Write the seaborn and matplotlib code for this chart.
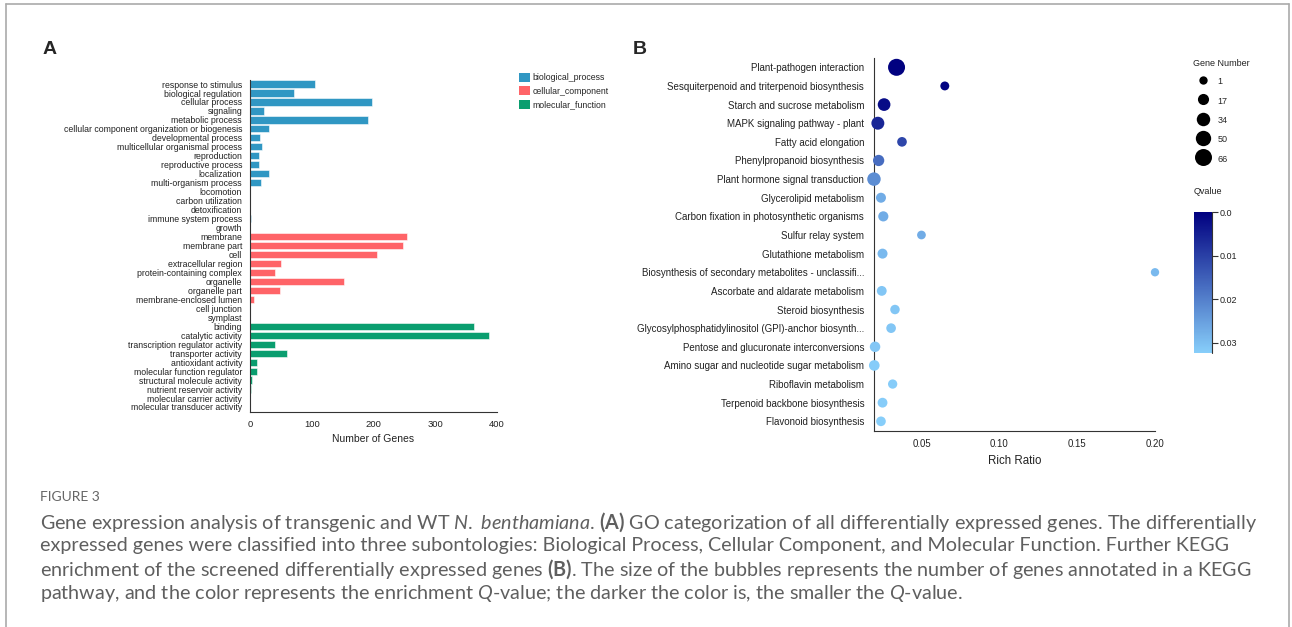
import numpy as np
import pandas as pd
import matplotlib
matplotlib.use("Agg")
import matplotlib.pyplot as plt
from matplotlib.colors import LinearSegmentedColormap, Normalize
from matplotlib.cm import ScalarMappable
from matplotlib.lines import Line2D
from matplotlib.patches import Patch
import seaborn as sns

# ---------------- GO categorisation (panel A) ----------------
bp_terms = [
    "response to stimulus", "biological regulation", "cellular process", "signaling",
    "metabolic process", "cellular component organization or biogenesis",
    "developmental process", "multicellular organismal process", "reproduction",
    "reproductive process", "localization", "multi-organism process", "locomotion",
    "carbon utilization", "detoxification", "immune system process", "growth",
]
bp_counts = [106, 71, 198, 22, 191, 31, 16, 19, 15, 15, 30, 18, 0, 0, 0, 2, 0]

cc_terms = [
    "membrane", "membrane part", "cell", "extracellular region",
    "protein-containing complex", "organelle", "organelle part",
    "membrane-enclosed lumen", "cell junction", "symplast",
]
cc_counts = [254, 248, 206, 51, 41, 152, 49, 7, 0, 0]

mf_terms = [
    "binding", "catalytic activity", "transcription regulator activity",
    "transporter activity", "antioxidant activity", "molecular function regulator",
    "structural molecule activity", "nutrient reservoir activity",
    "molecular carrier activity", "molecular transducer activity",
]
mf_counts = [362, 387, 41, 60, 12, 12, 4, 1, 0, 0]

ontology_names = ["biological_process", "cellular_component", "molecular_function"]
ontology_colors = ["#3097C3", "#FF6468", "#0A9E6F"]
gene_ticks = [0, 100, 200, 300, 400]

# ---------------- KEGG enrichment (panel B) ----------------
pathways = [
    "Plant-pathogen interaction",
    "Sesquiterpenoid and triterpenoid biosynthesis",
    "Starch and sucrose metabolism",
    "MAPK signaling pathway - plant",
    "Fatty acid elongation",
    "Phenylpropanoid biosynthesis",
    "Plant hormone signal transduction",
    "Glycerolipid metabolism",
    "Carbon fixation in photosynthetic organisms",
    "Sulfur relay system",
    "Glutathione metabolism",
    "Biosynthesis of secondary metabolites - unclassifi...",
    "Ascorbate and aldarate metabolism",
    "Steroid biosynthesis",
    "Glycosylphosphatidylinositol (GPI)-anchor biosynth...",
    "Pentose and glucuronate interconversions",
    "Amino sugar and nucleotide sugar metabolism",
    "Riboflavin metabolism",
    "Terpenoid backbone biosynthesis",
    "Flavonoid biosynthesis",
]
rich_ratio = [0.034, 0.065, 0.026, 0.022, 0.0375, 0.0225, 0.0195, 0.024, 0.0255, 0.050,
              0.025, 0.200, 0.0245, 0.033, 0.0305, 0.0202, 0.0197, 0.0315, 0.025, 0.024]
gene_number = [66, 4, 28, 30, 8, 18, 34, 10, 11, 3, 10, 1, 9, 7, 8, 13, 14, 6, 9, 8]
q_value = [0.0002, 0.0006, 0.002, 0.006, 0.011, 0.017, 0.022, 0.027, 0.027, 0.027,
           0.029, 0.029, 0.031, 0.031, 0.031, 0.031, 0.032, 0.032, 0.032, 0.0323]
size_legend_values = [1, 17, 34, 50, 66]
q_ticks = [0.0, 0.01, 0.02, 0.03]
q_tick_labels = ["0.0", "0.01", "0.02", "0.03"]
rich_ticks = [0.05, 0.10, 0.15, 0.20]

caption_lines = [
    r"Gene expression analysis of transgenic and WT $\mathit{N.\ benthamiana}$. $\mathbf{(A)}$ GO categorization of all differentially expressed genes. The differentially",
    "expressed genes were classified into three subontologies: Biological Process, Cellular Component, and Molecular Function. Further KEGG",
    r"enrichment of the screened differentially expressed genes $\mathbf{(B)}$. The size of the bubbles represents the number of genes annotated in a KEGG",
    r"pathway, and the color represents the enrichment $\mathit{Q}$-value; the darker the color is, the smaller the $\mathit{Q}$-value.",
]

# ---------------- style ----------------
sns.set_style("white")
plt.rcParams["font.family"] = ["Liberation Sans", "DejaVu Sans"]
plt.rcParams["mathtext.fontset"] = "custom"
plt.rcParams["mathtext.rm"] = "Lato"
plt.rcParams["mathtext.it"] = "Lato:italic"
plt.rcParams["mathtext.bf"] = "Lato:bold"

W, H = 1292, 627
fig = plt.figure(figsize=(W / 100, H / 100), dpi=100)
fig.patch.set_facecolor("white")


def box(left, top, right, bottom):
    """Figure-fraction rectangle from pixel edges."""
    return [left / W, 1 - bottom / H, (right - left) / W, (bottom - top) / H]


AXIS_COLOR = "#333333"
TEXT_COLOR = "#222222"
CAPTION_COLOR = "#5f5f5f"

# ---------------- panel A: GO bar chart ----------------
go = pd.DataFrame({
    "term": bp_terms + cc_terms + mf_terms,
    "count": bp_counts + cc_counts + mf_counts,
    "ontology": [ontology_names[0]] * len(bp_terms)
    + [ontology_names[1]] * len(cc_terms)
    + [ontology_names[2]] * len(mf_terms),
})
palette_a = dict(zip(ontology_names, ontology_colors))

axA = fig.add_axes(box(250, 80, 497, 412))
sns.barplot(data=go, x="count", y="term", hue="ontology", palette=palette_a,
            dodge=False, orient="h", width=0.8, saturation=1, legend=False,
            edgecolor=(1, 1, 1, 0.55), linewidth=0.7, ax=axA)
axA.set_xlim(0, 400)
axA.set_ylim(len(go) - 0.44, -0.45)
axA.set_xticks(gene_ticks)
axA.set_xticklabels([str(t) for t in gene_ticks])
axA.set_xlabel("Number of Genes", fontsize=7.5, color=TEXT_COLOR, labelpad=4)
axA.set_ylabel("")
for s in ("top", "right"):
    axA.spines[s].set_visible(False)
for s in ("left", "bottom"):
    axA.spines[s].set_color(AXIS_COLOR)
    axA.spines[s].set_linewidth(0.8)
axA.tick_params(axis="y", length=4.5, width=0.8, pad=1.2, labelsize=6.3,
                color=AXIS_COLOR, labelcolor=TEXT_COLOR)
axA.tick_params(axis="x", length=4, width=0.8, pad=1.5, labelsize=6.8,
                color=AXIS_COLOR, labelcolor=TEXT_COLOR)

handles_a = [Patch(facecolor=c, edgecolor="none") for c in ontology_colors]
axA.legend(handles_a, ontology_names, loc="upper left",
           bbox_to_anchor=(519 / W, 1 - 73 / H), bbox_transform=fig.transFigure,
           frameon=False, fontsize=6.3, handlelength=1.2, handleheight=1.2,
           handletextpad=0.35, labelspacing=0.45, borderpad=0, borderaxespad=0)

# ---------------- panel B: KEGG bubble chart ----------------
kegg = pd.DataFrame({"pathway": pathways, "rich": rich_ratio,
                     "genes": gene_number, "q": q_value})
cmap_q = LinearSegmentedColormap.from_list("qvalue", ["#000080", "#87CEFA"])
q_norm = Normalize(0.0, 0.0323)
size_range = (36, 150)
size_norm = (1, 66)

axB = fig.add_axes(box(873.5, 58, 1155, 431))
sns.scatterplot(data=kegg, x="rich", y="pathway", hue="q", size="genes",
                palette=cmap_q, hue_norm=q_norm, sizes=size_range, size_norm=size_norm,
                edgecolor="none", linewidth=0, legend=False, clip_on=False,
                zorder=3, ax=axB)
x_min = 0.0192
axB.set_xlim(x_min, 0.20)
axB.set_ylim(len(pathways) - 0.48, -0.5)
axB.set_xticks([x_min] + rich_ticks)
axB.set_xticklabels([""] + [f"{t:.2f}" for t in rich_ticks])
axB.set_yticks(range(len(pathways)))
axB.set_yticklabels(pathways)
axB.set_xlabel("Rich Ratio", fontsize=8.3, color=TEXT_COLOR, labelpad=4)
axB.set_ylabel("")
for s in ("top", "right"):
    axB.spines[s].set_visible(False)
for s in ("left", "bottom"):
    axB.spines[s].set_color(AXIS_COLOR)
    axB.spines[s].set_linewidth(0.8)
axB.tick_params(axis="y", length=5.5, width=0.8, pad=1.2, labelsize=7,
                color=AXIS_COLOR, labelcolor=TEXT_COLOR)
axB.tick_params(axis="x", length=4, width=0.8, pad=2, labelsize=6.9,
                color=AXIS_COLOR, labelcolor=TEXT_COLOR)


# bubble-size legend
def marker_diameter(g):
    lo, hi = size_norm
    area = size_range[0] + (size_range[1] - size_range[0]) * (g - lo) / (hi - lo)
    return np.sqrt(area)


size_handles = [Line2D([], [], marker="o", linestyle="", markerfacecolor="black",
                       markeredgecolor="none", markersize=marker_diameter(g))
                for g in size_legend_values]
fig.text(1193 / W, 1 - 63 / H, "Gene Number", fontsize=6.5, color=TEXT_COLOR,
         ha="left", va="center")
fig.legend(size_handles, [str(g) for g in size_legend_values],
           loc="center left", bbox_to_anchor=(1193 / W, 1 - 120 / H),
           frameon=False, fontsize=6.5, handlelength=2.2,
           handletextpad=0.55, labelspacing=0.85, handleheight=1.6,
           borderpad=0, borderaxespad=0)

# Q-value colour bar
fig.text(1194 / W, 1 - 192 / H, "Qvalue", fontsize=6.5, color=TEXT_COLOR,
         ha="left", va="center")
cax = fig.add_axes(box(1194, 212, 1212, 353))
cb = fig.colorbar(ScalarMappable(norm=q_norm, cmap=cmap_q), cax=cax)
cax.invert_yaxis()
cb.set_ticks(q_ticks)
cb.set_ticklabels(q_tick_labels)
cb.outline.set_visible(False)
cax.axvline(1, color=AXIS_COLOR, lw=0.8, clip_on=False)
cax.tick_params(length=4, width=0.8, labelsize=6.5, pad=1.5, color=AXIS_COLOR,
                labelcolor=TEXT_COLOR)

# ---------------- panel letters ----------------
fig.text(43 / W, 1 - 49 / H, "A", fontsize=14, fontweight="bold", ha="left", va="center")
fig.text(633 / W, 1 - 50 / H, "B", fontsize=14, fontweight="bold", ha="left", va="center")

# ---------------- caption ----------------
fig.text(40 / W, 1 - 497 / H, "FIGURE 3", fontsize=10, color="#666666",
         family="Lato", ha="left", va="center")
for i, line in enumerate(caption_lines):
    fig.text(40 / W, 1 - (522 + 23.8 * i) / H, line, fontsize=14.2, color=CAPTION_COLOR,
             family="Lato", fontweight="normal", ha="left", va="center")

# ---------------- outer frame ----------------
frame_kw = dict(color="#aaaaaa", lw=1.2, transform=fig.transFigure)
fig.add_artist(Line2D([6 / W, 6 / W], [0, 1 - 4 / H], **frame_kw))
fig.add_artist(Line2D([6 / W, 1289 / W], [1 - 4 / H, 1 - 4 / H], **frame_kw))
fig.add_artist(Line2D([1289 / W, 1289 / W], [0, 1 - 4 / H], **frame_kw))

fig.savefig("out.png", dpi=100, facecolor="white")
